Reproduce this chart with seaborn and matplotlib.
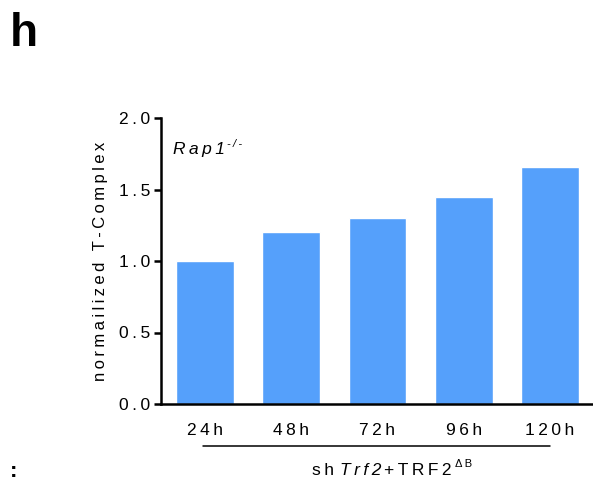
import matplotlib
matplotlib.use("Agg")
import matplotlib.pyplot as plt
import seaborn as sns
import matplotlib.transforms as mtransforms

# ---- data ----
times = ["24h", "48h", "72h", "96h", "120h"]
values = [1.0, 1.2, 1.3, 1.45, 1.66]
yticks = [0.0, 0.5, 1.0, 1.5, 2.0]
ylabel = "normailized T-Complex"
panel = "h"

sns.set_style("ticks")
plt.rcParams["font.family"] = ["Liberation Sans", "DejaVu Sans"]
plt.rcParams["text.color"] = "black"
plt.rcParams["axes.labelcolor"] = "black"
plt.rcParams["xtick.color"] = "black"
plt.rcParams["ytick.color"] = "black"

TS = "\u2009"


def spaced(s):
    return TS.join(s)


fig = plt.figure(figsize=(5.93, 4.83), dpi=100)
ax = fig.add_axes([161 / 593, 1 - 404 / 483, 432 / 593, 286 / 483])

sns.barplot(x=times, y=values, color="#55A0FB", saturation=1, width=0.67, ax=ax)

ax.set_xlim(-0.51, 4.5)
ax.set_ylim(0, 2.0)
ax.set_yticks(yticks)
ax.set_yticklabels([spaced(f"{v:.1f}") for v in yticks], fontsize=12.5, color="black")
ax.set_xticks(range(len(times)))
ax.set_xticklabels([spaced(t) for t in times], fontsize=12.5, color="black")
ax.set_xlabel("")
ax.set_ylabel(spaced(ylabel), fontsize=12, color="black")
ax.yaxis.set_label_coords(-0.123, 0.5)

for s in ["top", "right"]:
    ax.spines[s].set_visible(False)
for s in ["left", "bottom"]:
    ax.spines[s].set_linewidth(1.8)
    ax.spines[s].set_color("black")
ax.tick_params(axis="y", length=5, width=1.8, pad=3, colors="black")
ax.tick_params(axis="x", length=0, pad=13.5, colors="black")
ax.grid(False)

# Rap1 -/- label
t = ax.text(12 / 432, (404 - 154) / 286, spaced("Rap1"), transform=ax.transAxes,
            fontsize=12.5, style="italic", ha="left", va="baseline", color="black")
ax.annotate(spaced("-/-"), xy=(1, 1), xycoords=t, xytext=(1.5, 2),
            textcoords="offset points", fontsize=8, style="italic", ha="left",
            va="top", color="black")

# bracket line under x labels
trans = mtransforms.blended_transform_factory(ax.transData, ax.transAxes)
ax.plot([-0.02, 4.0], [-0.146, -0.146], transform=trans, color="black", lw=1.1,
        clip_on=False)

# bottom group label: sh Trf2 + TRF2 ^ΔB
p0 = ax.text((312 - 161) / 432, (404 - 475) / 286, spaced("sh"), transform=ax.transAxes,
             fontsize=12.5, ha="left", va="baseline", color="black")
p1 = ax.annotate(spaced("Trf2"), xy=(1, 0), xycoords=p0, xytext=(4, 0),
                 textcoords="offset points", fontsize=12.5, style="italic",
                 ha="left", va="bottom", color="black")
p2 = ax.annotate(spaced("+TRF2"), xy=(1, 0), xycoords=p1, xytext=(2.4, 0),
                 textcoords="offset points", fontsize=12.5, ha="left", va="bottom",
                 color="black")
ax.annotate(spaced("ΔB"), xy=(1, 1), xycoords=p2, xytext=(2, 3),
            textcoords="offset points", fontsize=8, ha="left", va="top", color="black")

# panel letter
fig.text(10 / 593, 1 - 46 / 483, panel, fontsize=33, fontweight="bold",
         ha="left", va="baseline", color="black")
fig.text(10 / 593, 1 - 477 / 483, ":", fontsize=16, fontweight="bold",
         ha="left", va="baseline", color="black")

fig.savefig("out.png", dpi=100)
